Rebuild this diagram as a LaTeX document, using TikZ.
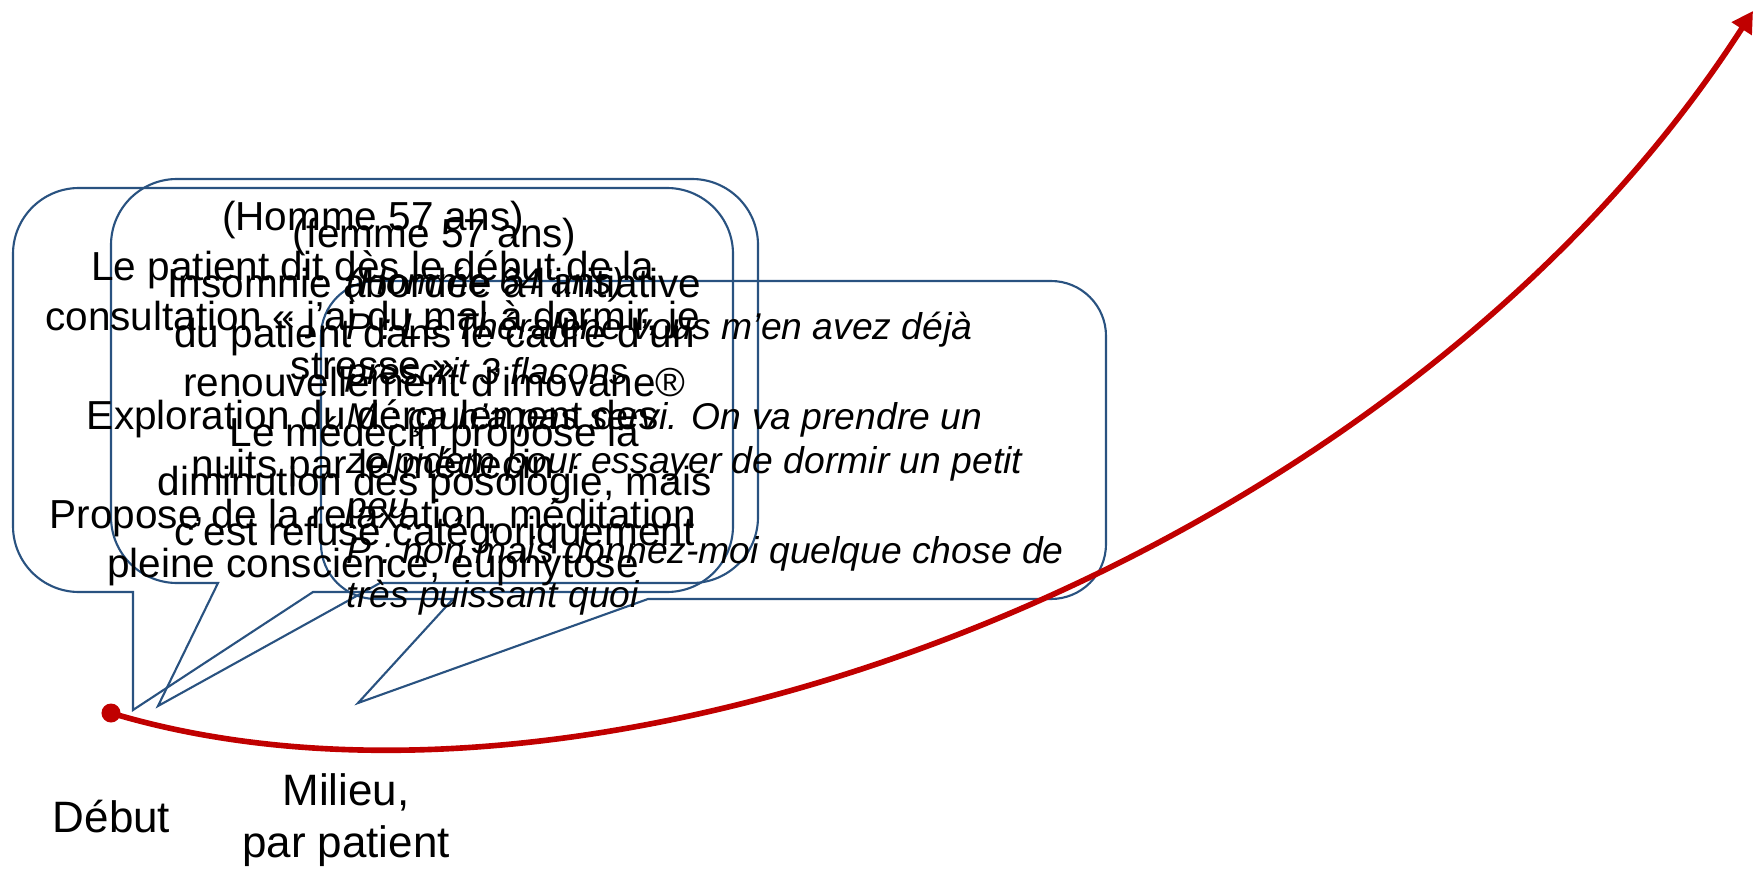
\documentclass[tikz,border=0pt]{standalone}
\usepackage{fontspec}
\setmainfont{Liberation Sans}
\usetikzlibrary{arrows.meta}
\definecolor{calloutblue}{RGB}{41,82,128}
\definecolor{curvered}{RGB}{192,0,0}
\tikzset{
  calloutline/.style={draw=calloutblue, line width=0.6pt, line join=miter},
  uprighttext/.style={anchor=base, inner sep=0pt, font=\fontsize{11.52}{14}\selectfont},
  italictext/.style={anchor=base west, inner sep=0pt, font=\fontsize{10.6}{13}\selectfont\itshape},
  labeltext/.style={anchor=base, inner sep=0pt, font=\fontsize{12.5}{15}\selectfont},
  timeline/.style={draw=curvered, line width=1.6pt, -{Triangle[length=6pt,width=6.5pt]}},
  startdot/.style={circle, fill=curvered, inner sep=0pt, minimum size=0.19cm}
}
% x1 Yb x2 Yt r bl br tipx tipY
\newcommand{\calloutpath}[9]{%
  \draw[calloutline] (#6,#2) -- (#8,#9) -- (#7,#2) -- ({#3-#5},#2)
    arc[start angle=270,end angle=360,radius={#5*0.01cm}] -- (#3,{#4-#5})
    arc[start angle=0,end angle=90,radius={#5*0.01cm}] -- ({#1+#5},#4)
    arc[start angle=90,end angle=180,radius={#5*0.01cm}] -- (#1,{#2+#5})
    arc[start angle=180,end angle=270,radius={#5*0.01cm}] -- cycle;}
\begin{document}
\begin{tikzpicture}[x=0.01cm,y=0.01cm]
\useasboundingbox (0,0) rectangle (1755,869);

% callout shapes
\calloutpath{13}{277}{733}{681}{66}{133}{313}{133}{159}
\calloutpath{111}{286}{758}{690}{66}{218}{380}{158}{163}
\calloutpath{321}{270}{1106}{588}{55}{453}{648}{358}{166}

% box A text
\foreach \t [count=\i] in {{(Homme 57 ans)},{Le patient dit dès le début de la},{consultation « j’ai du mal à dormir, je},{stresse »},{Exploration du déroulement des},{nuits par le médecin},{Propose de la relaxation, méditation},{pleine conscience, euphytose}}
  \node[uprighttext] (lineA\i) at (373,{638-49.5*(\i-1)}) {\t};

% box B text
\foreach \t [count=\i] in {{(femme 57 ans)},{Insomnie abordée à l’initiative},{du patient dans le cadre d’un},{renouvellement d’imovane®},{Le médecin propose la},{diminution des posologie, mais},{c’est refusé catégoriquement}}
  \node[uprighttext] (lineB\i) at (434.5,{621-49.5*(\i-1)}) {\t};

% box C text
\foreach \t [count=\i] in {{(Homme 64 ans)},{P : Le Théralène vous m’en avez déjà},{prescrit 3 flacons},{M : ça n’a pas servi. On va prendre un},{zolpidem pour essayer de dormir un petit},{peu},{P : non mais donnez-moi quelque chose de},{très puissant quoi}}
  \node[italictext] (lineC\i) at (346,{574-44.7*(\i-1)}) {\t};

% timeline
\node[startdot] (start) at (111,156) {};
\coordinate (finish) at (1753,858);
\draw[timeline] (start.center) .. controls (600,9) and (1400,309) .. (finish);

% labels
\node[labeltext] (debut) at (111.5,37) {Début};
\node[labeltext] (milieu1) at (346,64) {Milieu,};
\node[labeltext] (milieu2) at (346,12) {par patient};
\end{tikzpicture}
\end{document}
